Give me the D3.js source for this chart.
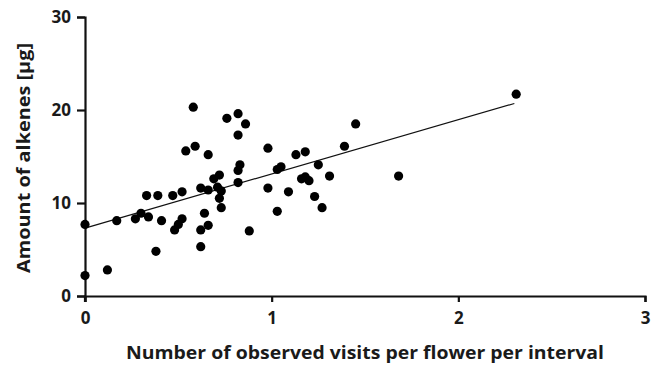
<!DOCTYPE html>
<html>
<head>
<meta charset="utf-8">
<script src="https://cdn.jsdelivr.net/npm/d3@7"></script>
<style>
  body { margin: 0; background: #fff; }
  svg text { font-family: "Open Sans", "DejaVu Sans", sans-serif; font-weight: bold; fill: #1a1a1a; }
</style>
</head>
<body>
<div id="chart"></div>
<script>
// observed visits per flower per interval (x) and alkene amount in µg (y)
const visits = [
  0.58, 0.76, 0.82, 0.86, 0.82, 0.54, 0.59, 0.66, 0.98, 0.83,
  0.82, 0.69, 0.72, 0.82, 0.62, 0.66, 0.71, 0.73, 0.72, 0.73,
  0.98, 0.33, 0.39, 0.47, 0.52, 0.00, 0.17, 0.27, 0.30, 0.34,
  0.41, 0.48, 0.50, 0.52, 0.64, 0.62, 0.66, 0.88, 0.38, 0.62,
  0.00, 0.12, 1.45, 1.39, 1.13, 1.18, 1.25, 1.03, 1.05, 1.18,
  1.20, 1.16, 1.31, 1.09, 1.23, 1.03, 1.27, 1.68, 2.31
];
const alkenes = [
  20.3, 19.1, 19.6, 18.5, 17.3, 15.6, 16.1, 15.2, 15.9, 14.1,
  13.5, 12.6, 13.0, 12.2, 11.6, 11.4, 11.7, 11.3, 10.5, 9.5,
  11.6, 10.8, 10.8, 10.8, 11.2, 7.7, 8.1, 8.3, 8.9, 8.5,
  8.1, 7.1, 7.7, 8.3, 8.9, 7.1, 7.6, 7.0, 4.8, 5.3,
  2.2, 2.8, 18.5, 16.1, 15.2, 15.5, 14.1, 13.6, 13.9, 12.8,
  12.4, 12.6, 12.9, 11.2, 10.7, 9.1, 9.5, 12.9, 21.7
];
// fitted trend line as drawn in the figure
const trendX = [0, 2.3];
const trendY = [7.3, 20.7];
const xTicks = [0, 1, 2, 3];
const yTicks = [0, 10, 20, 30];

const width = 662, height = 367;
const margin = {top: 17, right: 17, bottom: 71, left: 85};

const svg = d3.select("#chart").append("svg")
  .attr("width", width)
  .attr("height", height);

const x = d3.scaleLinear().domain([0, 3]).range([margin.left, width - margin.right]);
const y = d3.scaleLinear().domain([0, 30]).range([height - margin.bottom, margin.top]);

// axes
const xAxis = svg.append("g")
  .attr("transform", `translate(0,${y(0)})`)
  .call(d3.axisBottom(x).tickValues(xTicks).tickFormat(d3.format("d")).tickSize(6).tickSizeOuter(6).tickPadding(10));
const yAxis = svg.append("g")
  .attr("transform", `translate(${x(0)},0)`)
  .call(d3.axisLeft(y).tickValues(yTicks).tickSize(8).tickSizeOuter(8).tickPadding(6));

[xAxis, yAxis].forEach(g => {
  g.select(".domain").attr("stroke", "#111").attr("stroke-width", 2.2);
  g.selectAll(".tick line").attr("stroke", "#111").attr("stroke-width", 2.2);
  g.selectAll(".tick text").style("font-size", "17px").attr("fill", "#1a1a1a");
});
// y axis runs a little below the x axis, like in the figure
svg.append("line")
  .attr("x1", x(0)).attr("x2", x(0))
  .attr("y1", y(0)).attr("y2", y(0) + 6)
  .attr("stroke", "#111").attr("stroke-width", 2.2);

// trend line
svg.append("path")
  .datum(trendX.map((v, i) => [v, trendY[i]]))
  .attr("fill", "none")
  .attr("stroke", "#111")
  .attr("stroke-width", 1.2)
  .attr("d", d3.line().x(d => x(d[0])).y(d => y(d[1])));

// points
svg.selectAll("circle.pt")
  .data(visits.map((v, i) => [v, alkenes[i]]))
  .enter()
  .append("circle")
  .attr("class", "pt")
  .attr("cx", d => x(d[0]))
  .attr("cy", d => y(d[1]))
  .attr("r", 4.6)
  .attr("fill", "#000");

// axis titles
svg.append("text")
  .attr("x", (x(0) + x(3)) / 2)
  .attr("y", 359)
  .attr("text-anchor", "middle")
  .attr("textLength", 478)
  .attr("lengthAdjust", "spacingAndGlyphs")
  .style("font-size", "17px")
  .text("Number of observed visits per flower per interval");

svg.append("text")
  .attr("transform", "translate(30,158) rotate(-90)")
  .attr("text-anchor", "middle")
  .attr("textLength", 230)
  .attr("lengthAdjust", "spacingAndGlyphs")
  .style("font-size", "17px")
  .text("Amount of alkenes [μg]");
</script>
</body>
</html>
